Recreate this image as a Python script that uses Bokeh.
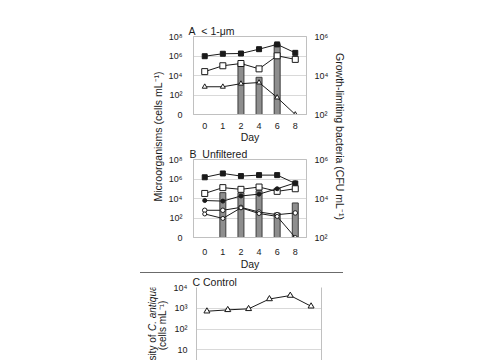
from math import pi
from bokeh.plotting import figure
from bokeh.models import (FactorRange, Range1d, LogScale, LogAxis, FixedTicker,
                          Label, Div, ColumnDataSource, Whisker, TeeHead)
from bokeh.layouts import row, column
from bokeh.embed import file_html
from bokeh.resources import INLINE

# ---------------- data ----------------
days = ["0", "1", "2", "4", "6", "8"]

# Panel A (< 1-um), microorganisms (cells/mL)
a_sq_filled = [9.5e5, 1.7e6, 1.8e6, 5.0e6, 1.55e7, 2.1e6]
a_sq_open = [2.5e4, 1.0e5, 1.7e5, 4.8e4, 1.05e6, 4.5e5]
a_tri_open = [700, 700, 1450, 1900, 55, 1]
# growth-limiting bacteria (CFU/mL)
a_bar_days = ["2", "4", "6"]
a_bar_vals = [4.6e4, 8.1e3, 4.3e5]

# Panel B (unfiltered)
b_sq_filled = [1.5e6, 3.7e6, 2.0e6, 2.5e6, 2.5e6, 3.5e5]
b_sq_open = [3.3e4, 1.3e5, 8.7e4, 1.5e5, 5.4e4, 1.0e5]
b_dot_filled = [6.2e3, 5.4e3, 1.8e4, 2.8e4, 1.0e5, 4.0e5]
b_circ_1 = [620, 620, 1230, 410, 220, 330]
b_circ_2 = [260, 90, 1100, 290, 145, 1]
b_bar_days = ["1", "2", "4", "6", "8"]
b_bar_vals = [2.0e4, 1.95e4, 2.5e4, 1.8e3, 5.9e3]

# Panel C (control), C. antiqua density
c_vals = [720, 840, 940, 2800, 4100, 1250]
c_err = [50, 110, 80, 250, 300, 110]

left_ticks = [1.0, 1e2, 1e4, 1e6, 1e8]
left_labels = ["0", "10²", "10⁴", "10⁶", "10⁸"]
right_ticks = [1e2, 1e4, 1e6]
right_labels = ["10²", "10⁴", "10⁶"]
c_ticks = [1.0, 10.0, 1e2, 1e3, 1e4]
c_labels = ["1", "10", "10²", "10³", "10⁴"]

# ---------------- style ----------------
FONT = "Liberation Sans"
INK = "#1a1a1a"
GRID = "#d9d9d9"
FRAME = "#c0c0c0"
BAR_FILL = "#8e8e8e"
BAR_LINE = "#3c3c3c"
TICK_FS = "9px"
LAB_FS = "10.5px"


def style_axis(ax, standoff):
    ax.axis_line_color = FRAME
    ax.major_tick_line_color = None
    ax.minor_tick_line_color = None
    ax.major_label_text_font = FONT
    ax.major_label_text_font_size = TICK_FS
    ax.major_label_text_color = INK
    ax.major_label_standoff = standoff


def style_title(p, text, offset):
    p.title.text = text
    p.title.align = "left"
    p.title.offset = offset
    p.title.standoff = 0
    p.title.text_font = FONT
    p.title.text_font_size = LAB_FS
    p.title.text_font_style = "normal"
    p.title.text_color = INK


def text_label(x, y, text, align="left", angle=0.0, style="normal", size=LAB_FS):
    return Label(x=x, y=y, x_units="screen", y_units="screen", text=text,
                 text_font=FONT, text_font_size=size, text_color=INK,
                 text_align=align, text_baseline="middle", angle=angle,
                 text_font_style=style)


def make_ab(height, top, bottom, x_standoff, day_standoff, bar_days, bar_vals,
            series, title, title_off):
    p = figure(width=166, height=height,
               x_range=FactorRange(*days, range_padding=0.04),
               y_axis_type="log", y_range=Range1d(1, 1e8),
               min_border_left=23, min_border_right=16,
               min_border_top=top, min_border_bottom=bottom,
               toolbar_location=None, output_backend="svg")
    p.extra_y_ranges = {"bact": Range1d(1e2, 1e6)}
    p.extra_y_scales = {"bact": LogScale()}
    rax = LogAxis(y_range_name="bact", ticker=FixedTicker(ticks=right_ticks))
    rax.major_label_overrides = dict(zip(right_ticks, right_labels))
    p.add_layout(rax, "right")
    lax = p.yaxis[0]
    lax.ticker = FixedTicker(ticks=left_ticks)
    lax.major_label_overrides = dict(zip(left_ticks, left_labels))
    style_axis(lax, 5)
    style_axis(rax, 2)
    xax = p.xaxis[0]
    style_axis(xax, x_standoff)
    xax.axis_label = "Day"
    xax.axis_label_standoff = day_standoff
    xax.axis_label_text_font = FONT
    xax.axis_label_text_font_size = LAB_FS
    xax.axis_label_text_font_style = "normal"
    xax.axis_label_text_color = INK
    p.xgrid.visible = False
    p.ygrid.ticker = FixedTicker(ticks=[1e2, 1e4, 1e6])
    p.ygrid.grid_line_color = GRID
    p.outline_line_color = FRAME
    style_title(p, title, title_off)

    p.vbar(x=bar_days, top=bar_vals, bottom=1e2, width=0.33, y_range_name="bact",
           fill_color=BAR_FILL, line_color=BAR_LINE, line_width=1)
    for vals, marker, size, fill in series:
        p.line(x=days, y=vals, line_color=INK, line_width=1)
        p.scatter(x=days, y=vals, marker=marker, size=size,
                  fill_color=fill, line_color=INK, line_width=1)
    return p


figA = make_ab(145, 36, 22, 2, -1, a_bar_days, a_bar_vals,
               [(a_sq_filled, "square", 5, INK),
                (a_sq_open, "square", 6, "white"),
                (a_tri_open, "triangle", 5, "white")],
               "A\u00a0 < 1-μm", -5)

figB = make_ab(127, 12, 27, 5, 0, b_bar_days, b_bar_vals,
               [(b_sq_filled, "square", 5, INK),
                (b_sq_open, "square", 6, "white"),
                (b_dot_filled, "circle", 4, INK),
                (b_circ_1, "circle", 4.5, "white"),
                (b_circ_2, "circle", 4, "white")],
               "B\u00a0 Unfiltered", -4)


def blank(w, h):
    f = figure(width=w, height=h, x_range=Range1d(0, 1), y_range=Range1d(0, 1),
               x_axis_location=None, y_axis_location=None, min_border=0,
               toolbar_location=None, output_backend="svg")
    f.grid.visible = False
    f.outline_line_color = None
    return f


labL = blank(165, 272)
labL.add_layout(text_label(157, 136, "Microorganisms (cells mL⁻¹)",
                           align="center", angle=pi / 2))
labR = blank(154, 272)
labR.add_layout(text_label(8, 136, "Growth-limiting bacteria (CFU mL⁻¹)",
                           align="center", angle=-pi / 2))

hr = Div(text="", width=203, height=1, margin=(0, 0, 0, 140),
         styles={"background-color": "#6b6b6b"})

# ---------------- panel C ----------------
pc = figure(width=315, height=87, x_range=FactorRange(*days),
            y_axis_type="log", y_range=Range1d(10 ** 0.486, 1e4),
            x_axis_location=None,
            min_border_left=18, min_border_right=164,
            min_border_top=14, min_border_bottom=0,
            toolbar_location=None, output_backend="svg")
cax = pc.yaxis[0]
cax.ticker = FixedTicker(ticks=c_ticks)
cax.major_label_overrides = dict(zip(c_ticks, c_labels))
style_axis(cax, 3)
rc = LogAxis(ticker=FixedTicker(ticks=[]))
style_axis(rc, 0)
pc.add_layout(rc, "right")
pc.xgrid.visible = False
pc.ygrid.ticker = FixedTicker(ticks=[10.0, 1e2, 1e3, 1e4])
pc.ygrid.grid_line_color = GRID
pc.outline_line_color = None
style_title(pc, "C Control", -4)

c_src = ColumnDataSource(dict(x=days, y=c_vals,
                              upper=[v + e for v, e in zip(c_vals, c_err)],
                              lower=[v - e for v, e in zip(c_vals, c_err)]))
pc.add_layout(Whisker(source=c_src, base="x", upper="upper", lower="lower",
                      line_color=INK, line_width=1,
                      upper_head=TeeHead(size=4, line_color=INK),
                      lower_head=TeeHead(size=4, line_color=INK)))
pc.line(x="x", y="y", source=c_src, line_color=INK, line_width=1)
pc.scatter(x="x", y="y", source=c_src, marker="triangle", size=6,
           fill_color="white", line_color=INK, line_width=1)

labC = blank(170, 87)
labC.add_layout(text_label(152, 75, "C. antiqua", align="right", angle=pi / 2,
                           style="italic", size="10px"))
labC.add_layout(text_label(152, 26, "Density of", align="right", angle=pi / 2,
                           size="10px"))
labC.add_layout(text_label(162, 35, "(cells mL⁻¹)", align="center", angle=pi / 2,
                           size="10px"))

layout = column(row(labL, column(figA, figB), labR), hr, row(labC, pc))

open("out.html", "w").write(file_html(layout, INLINE))
